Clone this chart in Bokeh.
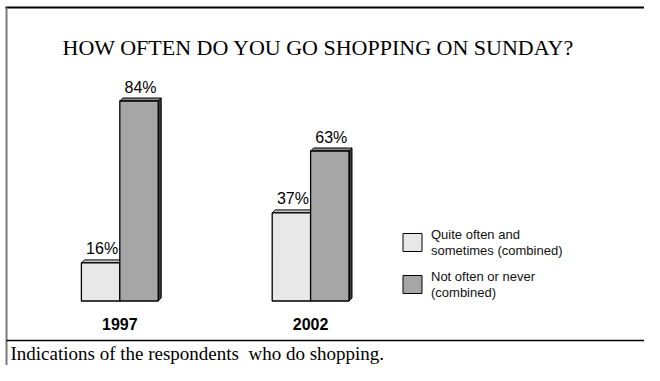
from bokeh.plotting import figure
from bokeh.models import ColumnDataSource, Range1d
from bokeh.core.properties import value
from bokeh.embed import file_html
from bokeh.resources import INLINE

# ---- data ----
years = ["1997", "2002"]
series = ["Quite often and\nsometimes (combined)", "Not often or never\n(combined)"]
often = [16, 37]
never = [84, 63]
title_text = "HOW OFTEN DO YOU GO SHOPPING ON SUNDAY?"
footer_text = "Indications of the respondents\u00a0 who do shopping."

# ---- styling / layout ----
fills = ["#e8e8e8", "#a6a6a6"]
tops = ["#c4c4c4", "#8a8a8a"]
sides = ["#8a8a8a", "#3c3c3c"]
W, H = 644, 365
GROUP_PX = 190.8          # pixels between groups
BAR_PX = 38.4             # bar width in pixels
K = 200.0 / 84.0          # pixels per percent
ORIGIN_X = 119.3          # canvas x of first group centre
ORIGIN_Y = 300.5          # canvas y of value 0
DEPTH = 3.0               # 3D depth in pixels


def xd(cx):  # canvas x pixel -> data x
    return (cx - ORIGIN_X) / GROUP_PX


def yd(cy):  # canvas y pixel -> data y
    return (ORIGIN_Y - cy) / K


p = figure(width=W, height=H, output_backend="svg", toolbar_location=None,
           x_range=Range1d(xd(0), xd(W)), y_range=Range1d(yd(H), yd(0)),
           min_border=0)
p.axis.visible = False
p.grid.visible = False
p.outline_line_color = None
p.background_fill_color = "white"
p.border_fill_color = "white"

bw = BAR_PX / GROUP_PX
ddx = DEPTH / GROUP_PX
ddy = DEPTH / K

idx = list(range(len(years)))
for s, vals in enumerate([often, never]):
    left = [i - bw if s == 0 else i for i in idx]
    right = [l + bw for l in left]
    src = ColumnDataSource(dict(left=left, right=right, top=vals,
                                bottom=[0] * len(vals)))
    # side face
    p.patches(xs=[[r, r + ddx, r + ddx, r] for r in right],
              ys=[[0, ddy, v + ddy, v] for v in vals],
              fill_color=sides[s], line_color="black", line_width=1)
    # top face
    p.patches(xs=[[l, l + ddx, r + ddx, r] for l, r in zip(left, right)],
              ys=[[v, v + ddy, v + ddy, v] for v in vals],
              fill_color=tops[s], line_color="black", line_width=1)
    p.quad(left="left", right="right", top="top", bottom="bottom", source=src,
           fill_color=fills[s], line_color="black", line_width=1.3)
    # value labels
    p.text(x=[(l + r) / 2 + ddx / 2 for l, r in zip(left, right)], y=vals,
           text=[f"{v}%" for v in vals], y_offset=-14,
           text_align="center", text_baseline="middle",
           text_font=value("Liberation Sans"), text_font_size="16px",
           text_color="black")

# category labels
p.text(x=idx, y=[0] * len(idx), text=years, y_offset=23,
       text_align="center", text_baseline="middle",
       text_font=value("Liberation Sans"), text_font_size="16px",
       text_font_style="bold", text_color="black")

# title
p.text(x=[xd(318)], y=[yd(47)], text=[title_text],
       text_align="center", text_baseline="middle",
       text_font=value("Liberation Serif"), text_font_size="22px",
       text_color="black")

# legend
for s, name in enumerate(series):
    top_px = 233 + s * 42
    p.quad(left=[xd(402.5)], right=[xd(421.5)],
           top=[yd(top_px)], bottom=[yd(top_px + 18)],
           fill_color=fills[s], line_color="black", line_width=1)
    p.text(x=[xd(430.5)], y=[yd(top_px + 9)], text=[name],
           text_align="left", text_baseline="middle",
           text_font=value("Liberation Sans"), text_font_size="13px",
           text_line_height=1.05, text_color="#111111")

# frame lines
p.segment(x0=[xd(5)], y0=[yd(7)], x1=[xd(W)], y1=[yd(7)],
          line_color="black", line_width=1.8)
p.segment(x0=[xd(6)], y0=[yd(7)], x1=[xd(6)], y1=[yd(H)],
          line_color="#7a7a7a", line_width=2)
p.segment(x0=[xd(6)], y0=[yd(340)], x1=[xd(W)], y1=[yd(340)],
          line_color="black", line_width=1.6)

# footer
p.text(x=[xd(10)], y=[yd(353)], text=[footer_text],
       text_align="left", text_baseline="middle",
       text_font=value("Liberation Serif"), text_font_size="19px",
       text_color="black")

open("out.html", "w").write(file_html(p, INLINE))
